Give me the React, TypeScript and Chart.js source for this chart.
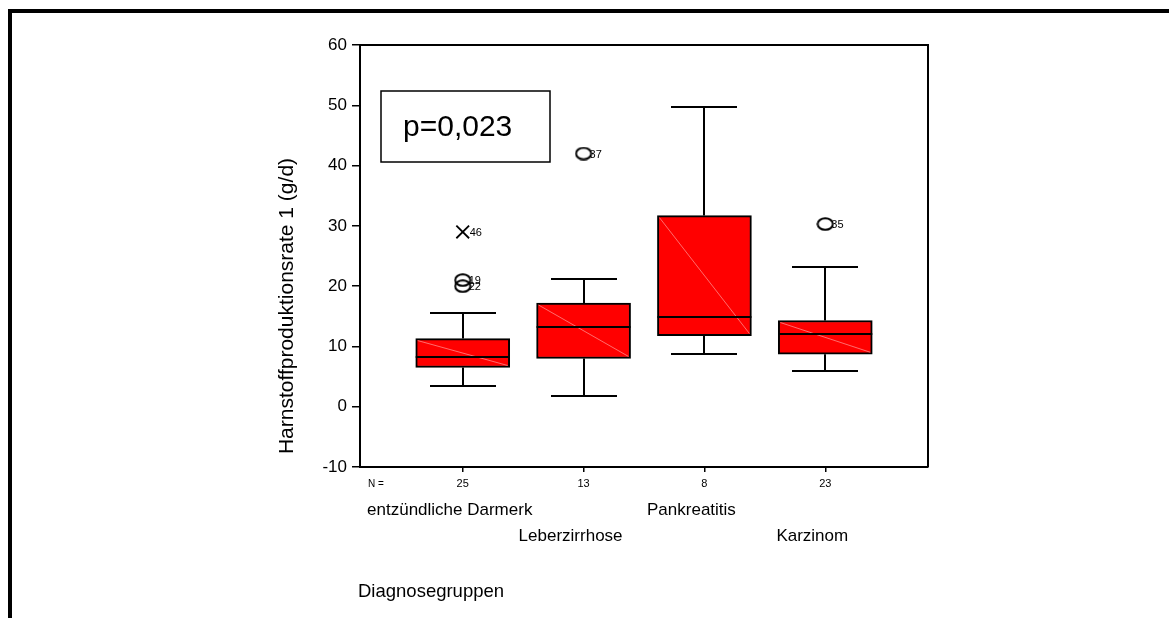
import React, { useEffect, useRef } from 'react';
import { Chart, registerables } from 'chart.js';

Chart.register(...registerables);

const categories = ['entzündliche Darmerk', 'Leberzirrhose', 'Pankreatitis', 'Karzinom'];
const nCounts = ['25', '13', '8', '23'];
const whiskerLow = [3.5, 1.8, 8.7, 6.0];
const q1 = [6.5, 8.0, 11.8, 8.7];
const median = [8.3, 13.3, 14.8, 12.0];
const q3 = [11.3, 17.2, 31.7, 14.3];
const whiskerHigh = [15.5, 21.2, 49.7, 23.2];
const outlierCat = [1, 1, 2, 4];
const outlierValue = [21.0, 20.0, 42.0, 30.3];
const outlierLabel = ['19', '22', '37', '35'];
const extremeCat = [1];
const extremeValue = [29.0];
const extremeLabel = ['46'];
const yMin = -10;
const yMax = 60;
const yStep = 10;
const yTitle = 'Harnstoffproduktionsrate 1 (g/d)';
const xTitle = 'Diagnosegruppen';
const pText = 'p=0,023';

const FONT = 'Liberation Sans, Arial, Helvetica, sans-serif';

function makeEllipse(): HTMLCanvasElement {
  const c = document.createElement('canvas');
  c.width = 18;
  c.height = 14;
  const g = c.getContext('2d')!;
  g.strokeStyle = '#000';
  g.lineWidth = 2;
  g.beginPath();
  g.ellipse(9, 7, 7.6, 5.8, 0, 0, Math.PI * 2);
  g.stroke();
  return c;
}

const extrasPlugin = {
  id: 'boxExtras',
  afterDatasetsDraw(chart: any) {
    const { ctx, scales, chartArea } = chart;
    const y = scales.y;
    const meta = chart.getDatasetMeta(0);
    ctx.save();
    meta.data.forEach((bar: any, i: number) => {
      const p = bar.getProps(['x', 'width'], true);
      const cx = p.x;
      const half = p.width / 2;
      const left = cx - half;
      const right = cx + half;
      const top = y.getPixelForValue(q3[i]);
      const bottom = y.getPixelForValue(q1[i]);
      // faint diagonal
      ctx.strokeStyle = 'rgba(255,150,150,0.9)';
      ctx.lineWidth = 0.8;
      ctx.beginPath();
      ctx.moveTo(left + 2, top + 2);
      ctx.lineTo(right - 2, bottom - 2);
      ctx.stroke();
      // median
      ctx.strokeStyle = '#000';
      ctx.lineWidth = 2;
      const m = Math.round(y.getPixelForValue(median[i]));
      ctx.beginPath();
      ctx.moveTo(left, m);
      ctx.lineTo(right, m);
      ctx.stroke();
      // whiskers
      const hi = Math.round(y.getPixelForValue(whiskerHigh[i]));
      const lo = Math.round(y.getPixelForValue(whiskerLow[i]));
      const capHalf = 33;
      const xc = Math.round(cx);
      ctx.beginPath();
      ctx.moveTo(xc, top);
      ctx.lineTo(xc, hi);
      ctx.moveTo(xc - capHalf, hi);
      ctx.lineTo(xc + capHalf, hi);
      ctx.moveTo(xc, bottom);
      ctx.lineTo(xc, lo);
      ctx.moveTo(xc - capHalf, lo);
      ctx.lineTo(xc + capHalf, lo);
      ctx.stroke();
    });
    // plot frame top and right
    ctx.strokeStyle = '#000';
    ctx.lineWidth = 2;
    ctx.beginPath();
    ctx.moveTo(chartArea.left, chartArea.top);
    ctx.lineTo(chartArea.right, chartArea.top);
    ctx.lineTo(chartArea.right, chartArea.bottom);
    ctx.stroke();
    ctx.restore();
  },
  afterDraw(chart: any) {
    const { ctx, scales, chartArea } = chart;
    const x = scales.x;
    const y = scales.y;
    ctx.save();
    ctx.fillStyle = '#000';
    // outlier labels
    ctx.font = `11px ${FONT}`;
    ctx.textAlign = 'left';
    ctx.textBaseline = 'middle';
    outlierLabel.forEach((lab, i) => {
      const px = x.getPixelForValue(outlierCat[i]);
      const py = y.getPixelForValue(outlierValue[i]);
      ctx.fillText(lab, px + 6, py + 1);
    });
    extremeLabel.forEach((lab, i) => {
      const px = x.getPixelForValue(extremeCat[i]);
      const py = y.getPixelForValue(extremeValue[i]);
      ctx.fillText(lab, px + 7, py + 1);
    });
    // N =
    ctx.font = `10px ${FONT}`;
    ctx.textAlign = 'center';
    ctx.fillText('N =', chartArea.left + 16, chartArea.bottom + 17);
    // category labels (staggered)
    ctx.font = `17px ${FONT}`;
    categories.forEach((c, i) => {
      const px = x.getPixelForValue(i + 1) - 13;
      const py = chartArea.bottom + (i % 2 === 0 ? 43 : 69);
      ctx.fillText(c, px, py);
    });
    // x title
    ctx.font = `18.5px ${FONT}`;
    ctx.textAlign = 'left';
    ctx.fillText(xTitle, chartArea.left - 2, chartArea.bottom + 125);
    // y title
    ctx.save();
    ctx.translate(chartArea.left - 73, (chartArea.top + chartArea.bottom) / 2 + 50);
    ctx.rotate(-Math.PI / 2);
    ctx.textAlign = 'center';
    ctx.font = `21px ${FONT}`;
    ctx.fillText(yTitle, 0, 0);
    ctx.restore();
    // p-value box
    const bx = chartArea.left + 21;
    const by = chartArea.top + 46;
    ctx.strokeStyle = '#000';
    ctx.lineWidth = 1.5;
    ctx.strokeRect(bx, by, 169, 71);
    ctx.font = `30px ${FONT}`;
    ctx.textAlign = 'left';
    ctx.fillText(pText, bx + 22, by + 37);
    ctx.restore();
  },
};

export default function App() {
  const ref = useRef<HTMLCanvasElement>(null);
  useEffect(() => {
    document.body.style.margin = '0';
    const ellipse = makeEllipse();
    const chart = new Chart(ref.current!, {
      type: 'bar',
      data: {
        datasets: [
          {
            type: 'bar',
            data: categories.map((_, i) => ({ x: i + 1, y: [q1[i], q3[i]] })) as any,
            backgroundColor: '#ff0000',
            borderColor: '#000',
            borderWidth: 2,
            borderSkipped: false,
            barThickness: 94,
          } as any,
          {
            type: 'scatter',
            data: outlierValue.map((v, i) => ({ x: outlierCat[i], y: v })),
            pointStyle: ellipse,
            showLine: false,
          } as any,
          {
            type: 'scatter',
            data: extremeValue.map((v, i) => ({ x: extremeCat[i], y: v })),
            pointStyle: 'crossRot',
            radius: 9,
            borderColor: '#000',
            borderWidth: 1.8,
            showLine: false,
          } as any,
        ],
      },
      options: {
        responsive: false,
        animation: false,
        events: [],
        layout: { padding: { left: 300, top: 45, right: 241, bottom: 0 } },
        plugins: { legend: { display: false }, tooltip: { enabled: false } },
        scales: {
          x: {
            type: 'linear',
            min: 0.15,
            max: 4.85,
            offset: false,
            afterBuildTicks: (s: any) => {
              s.ticks = nCounts.map((_, i) => ({ value: i + 1 }));
            },
            afterFit: (s: any) => {
              s.height = 151;
            },
            ticks: {
              callback: (_v: any, idx: number) => nCounts[idx],
              font: { family: FONT, size: 11 },
              color: '#000',
              padding: 5,
              maxRotation: 0,
              autoSkip: false,
            },
            grid: { display: true, offset: false, drawOnChartArea: false, drawTicks: true, tickLength: 5, color: '#000', lineWidth: 1.5 },
            border: { display: true, color: '#000', width: 2 },
          },
          y: {
            type: 'linear',
            min: yMin,
            max: yMax,
            afterFit: (s: any) => {
              s.width = 60;
            },
            ticks: {
              stepSize: yStep,
              font: { family: FONT, size: 17 },
              color: '#000',
              padding: 5,
            },
            grid: { display: true, drawOnChartArea: false, drawTicks: true, tickLength: 8, color: '#000', lineWidth: 1.5 },
            border: { display: true, color: '#000', width: 2 },
          },
        },
      },
      plugins: [extrasPlugin],
    });
    return () => chart.destroy();
  }, []);
  return (
    <div style={{ position: 'relative', width: 1169, height: 618, overflow: 'hidden', background: '#fff' }}>
      <canvas ref={ref} width={1169} height={618} style={{ display: 'block' }} />
      <div
        style={{
          position: 'absolute',
          left: 8,
          top: 9,
          right: -10,
          bottom: -10,
          borderTop: '4px solid #000',
          borderLeft: '4px solid #000',
          pointerEvents: 'none',
        }}
      />
    </div>
  );
}
